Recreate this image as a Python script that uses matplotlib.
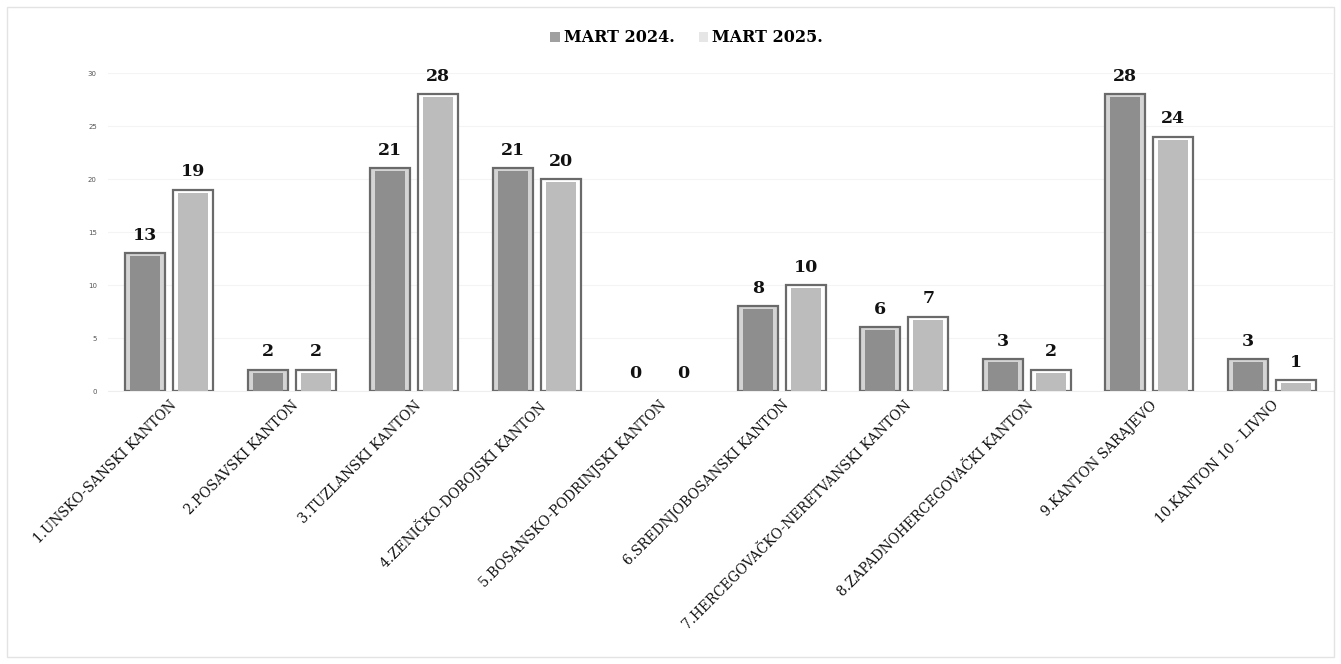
import matplotlib
matplotlib.use("Agg")
import matplotlib.pyplot as plt
from matplotlib.patches import Rectangle
import numpy as np

categories = ["1.UNSKO-SANSKI KANTON", "2.POSAVSKI KANTON", "3.TUZLANSKI KANTON",
              "4.ZENIČKO-DOBOJSKI KANTON", "5.BOSANSKO-PODRINJSKI KANTON",
              "6.SREDNJOBOSANSKI KANTON", "7.HERCEGOVAČKO-NERETVANSKI KANTON",
              "8.ZAPADNOHERCEGOVAČKI KANTON", "9.KANTON SARAJEVO", "10.KANTON 10 - LIVNO"]
mart_2024 = [13, 2, 21, 21, 0, 8, 6, 3, 28, 3]
mart_2025 = [19, 2, 28, 20, 0, 10, 7, 2, 24, 1]
series_names = ["MART 2024.", "MART 2025."]
yticks = [0, 5, 10, 15, 20, 25, 30]

fig = plt.figure(figsize=(13.41, 6.64), dpi=100)
fig.patches.append(Rectangle((0.005, 0.01), 0.99, 0.98, transform=fig.transFigure,
                             fill=False, edgecolor="#e3e3e3", linewidth=1.0))
ax = fig.add_axes([0.0805, 0.411, 0.9135, 0.479])

x = np.arange(len(categories))
w = 0.325
off = 0.196
styles = [("#8e8e8e", "#d4d4d4"), ("#bcbcbc", "#ffffff")]
for i, (vals, (inner, outer)) in enumerate(zip([mart_2024, mart_2025], styles)):
    xs = x + (-off if i == 0 else off)
    lw = [1.6 if v > 0 else 0 for v in vals]
    ax.bar(xs, vals, width=w, color=outer, edgecolor="#6a6a6a", linewidth=lw, zorder=3)
    inner_h = [max(v - 0.28, 0) for v in vals]
    ax.bar(xs, inner_h, width=w * 0.76, color=inner, edgecolor="none", zorder=4)
    for xi, v in zip(xs, vals):
        ax.text(xi, v + 0.9, str(v), ha="center", va="bottom", fontsize=12.5,
                fontweight="bold", family="DejaVu Serif", color="#111111", zorder=5)

ax.set_ylim(0, 30)
ax.set_xlim(-0.5, len(categories) - 0.5)
ax.set_yticks(yticks)
ax.set_yticklabels([str(t) for t in yticks], fontsize=5, color="#555555")
ax.yaxis.grid(True, color="#f4f4f4", linewidth=0.8, zorder=0)
ax.set_axisbelow(True)
ax.tick_params(axis="y", length=0, pad=8)
ax.tick_params(axis="x", length=0, pad=5)
ax.set_xticks(x)
ax.set_xticklabels(categories, rotation=45, ha="right", rotation_mode="anchor",
                   fontsize=10.9, family="DejaVu Serif", fontstretch="condensed",
                   color="#111111")
for lbl in ax.get_xticklabels():
    lbl.set_x(lbl.get_position()[0] + 0.04)
for s in ["top", "right", "left"]:
    ax.spines[s].set_visible(False)
ax.spines["bottom"].set_color("#eeeeee")

h1 = Rectangle((0, 0), 1, 1, facecolor="#a0a0a0", edgecolor="none")
h2 = Rectangle((0, 0), 1, 1, facecolor="#e6e6e6", edgecolor="none")
fig.legend([h1, h2], series_names, loc="center", bbox_to_anchor=(0.512, 0.943), ncol=2,
           frameon=False, handlelength=0.6, handleheight=0.6, handletextpad=0.25,
           columnspacing=1.5, prop={"family": "DejaVu Serif", "weight": "bold", "size": 11.5})

fig.savefig("out.png", dpi=100)
